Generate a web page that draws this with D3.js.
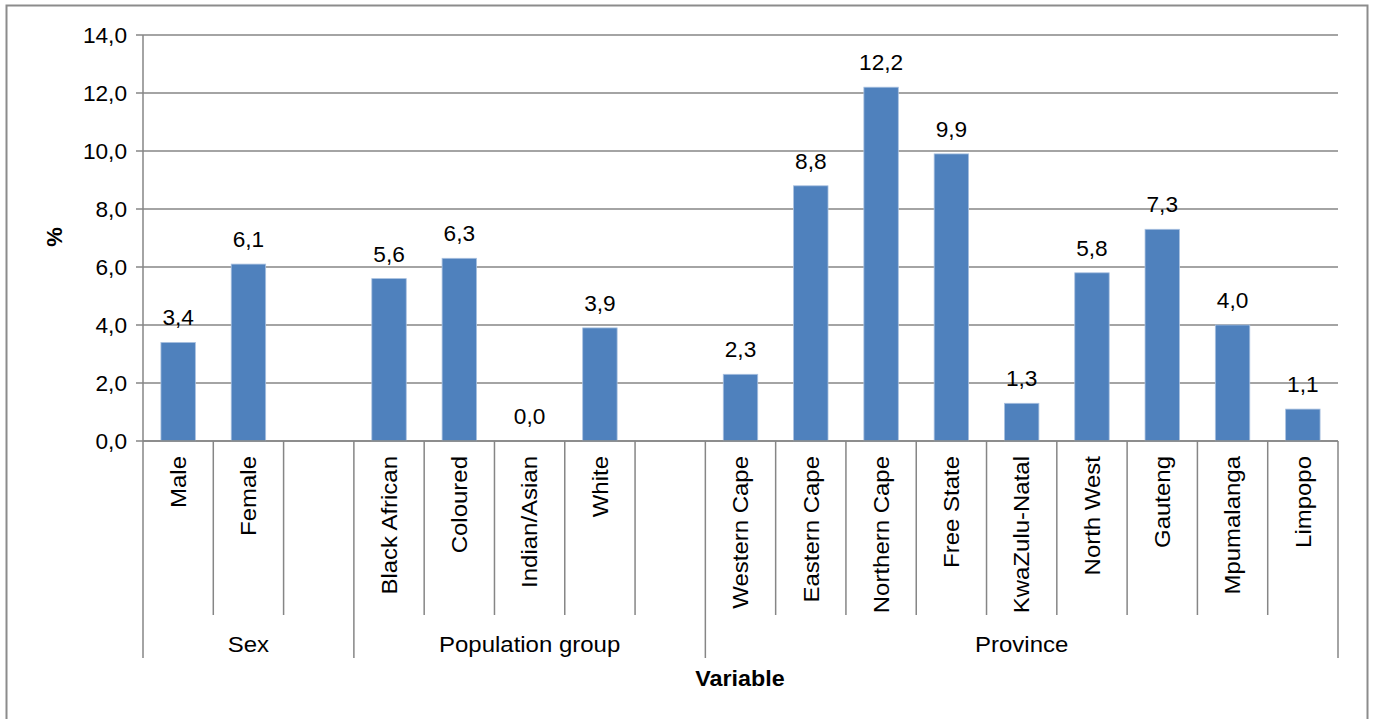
<!DOCTYPE html>
<html><head><meta charset="utf-8">
<script src="https://cdn.jsdelivr.net/npm/d3@7"></script>
<style>body{margin:0;background:#fff}svg{display:block}text{font-family:"Liberation Sans",Arial,sans-serif;fill:#000}</style>
</head><body><svg id="c" width="1375" height="719"></svg>
<script>
const categories = ["Male","Female","","Black African","Coloured","Indian/Asian","White","","Western Cape","Eastern Cape","Northern Cape","Free State","KwaZulu-Natal","North West","Gauteng","Mpumalanga","Limpopo"];
const values = [3.4,6.1,null,5.6,6.3,0.0,3.9,null,2.3,8.8,12.2,9.9,1.3,5.8,7.3,4.0,1.1];
const groups = ["Sex","Population group","Province"];
const groupSpans = [[0,3],[3,8],[8,17]];
const yTicks = [0,2,4,6,8,10,12,14];

const svg = d3.select("#c");
const L=143, R=1338, T=35, B=441;
const fs = 22;
const grey = "#868686";

svg.append("rect").attr("x",6.5).attr("y",5.5).attr("width",1361).attr("height",730)
  .attr("fill","none").attr("stroke","#8c8c8c").attr("stroke-width",2);

const idx = categories.map((d,i)=>i);
const x = d3.scaleBand().domain(idx).range([L,R]).paddingInner(0).paddingOuter(0);
const y = d3.scaleLinear().domain([0,14]).range([B,T]);
const fmt = v => d3.format(".1f")(v).replace(".",",");

// gridlines
svg.append("g").selectAll("line").data(yTicks).join("line")
  .attr("x1",L-7).attr("x2",R).attr("y1",d=>y(d)).attr("y2",d=>y(d))
  .attr("stroke",grey).attr("stroke-width",1.5);
// y tick labels
svg.append("g").selectAll("text").data(yTicks).join("text")
  .attr("transform",d=>`translate(${L-16},${y(d)}) scale(1.03,1)`)
  .attr("dy","0.35em").attr("text-anchor","end")
  .attr("font-size",fs).text(fmt);

// bars
const bw = x.bandwidth()*0.49;
svg.append("g").selectAll("rect").data(idx.filter(i=>values[i]!==null)).join("rect")
  .attr("x",i=>x(i)+x.bandwidth()/2-bw/2).attr("width",bw)
  .attr("y",i=>y(values[i])).attr("height",i=>B-y(values[i]))
  .attr("fill","#4F81BD").attr("stroke","#a9c1e0").attr("stroke-width",0.8);
// data labels
svg.append("g").selectAll("text").data(idx.filter(i=>values[i]!==null)).join("text")
  .attr("transform",i=>`translate(${x(i)+x.bandwidth()/2},${y(values[i])-17}) scale(1.03,1)`)
  .attr("text-anchor","middle").attr("font-size",fs).text(i=>fmt(values[i]));

// axes lines
svg.append("line").attr("x1",L).attr("x2",L).attr("y1",T).attr("y2",658).attr("stroke",grey).attr("stroke-width",1.5);
svg.append("line").attr("x1",L).attr("x2",R).attr("y1",B).attr("y2",B).attr("stroke",grey).attr("stroke-width",1.5);

// category separators
svg.append("g").selectAll("line").data(idx.slice(1).concat([categories.length])).join("line")
  .attr("x1",i=>i<categories.length?x(i):R).attr("x2",i=>i<categories.length?x(i):R)
  .attr("y1",B).attr("y2",i=>(groupSpans.some(s=>s[1]===i))?658:615)
  .attr("stroke",grey).attr("stroke-width",1.5);

// category labels
svg.append("g").selectAll("text").data(idx).join("text")
  .attr("transform",i=>`translate(${x(i)+x.bandwidth()/2},456) rotate(-90) scale(1.09,1)`)
  .attr("text-anchor","end").attr("dy","0.35em").attr("font-size",fs).text(i=>categories[i]);

// group labels
svg.append("g").selectAll("text").data(groups).join("text")
  .attr("transform",(d,k)=>{const s=groupSpans[k];const a=x(s[0]);const b=s[1]<categories.length?x(s[1]):R;return `translate(${(a+b)/2},644) scale(1.09,1)`;})
  .attr("dy","0.35em").attr("text-anchor","middle").attr("font-size",fs).text(d=>d);

// axis titles
svg.append("text").attr("transform","translate(740,678) scale(1.06,1)").attr("dy","0.35em").attr("text-anchor","middle")
  .attr("font-size",fs).attr("font-weight","bold").text("Variable");
svg.append("text").attr("transform","translate(54,237) rotate(-90)").attr("dy","0.35em")
  .attr("text-anchor","middle").attr("font-size",fs).attr("font-weight","bold").text("%");
</script></body></html>
